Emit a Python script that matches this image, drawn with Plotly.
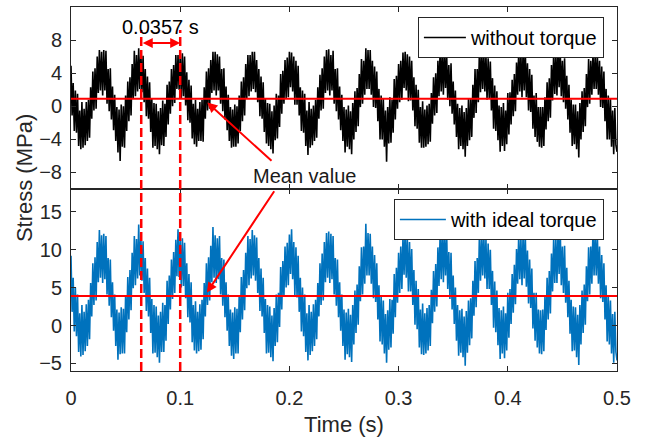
import numpy as np
import plotly.graph_objects as go
from plotly.subplots import make_subplots

# Sampling interval of the recorded stress signals (s)
dt = 0.001

# Stress without torque compensation (MPa), one value per sample
stress_without = [
    4.9, -1.1, 2.8, -3.0, 1.9, -3.2, 1.5, -4.8, -0.5, -5.2, 0.5, -5.0, -0.3,
    -4.7, 0.5, -4.2, 0.8, -3.8, 2.3, -1.5, 4.2, -0.5, 4.6, -0.3, 6.0, 1.6,
    6.8, 1.9, 6.6, 1.3, 6.8, 1.9, 6.7, 0.3, 4.5, -0.6, 4.6, -1.6, 2.4,
    -2.9, 1.4, -4.2, -0.1, -5.6, -0.4, -6.6, 0.2, -4.9, 0.0, -5.0, 1.3, -3.0,
    3.0, -1.8, 3.5, -1.1, 5.1, 1.0, 6.7, 1.2, 6.2, 1.8, 7.0, 2.1, 6.6,
    1.7, 6.1, 0.5, 4.5, -1.2, 3.6, -1.5, 2.9, -3.1, 0.9, -5.0, 0.4, -4.8,
    0.3, -5.2, -0.6, -5.8, -0.2, -4.7, 0.7, -4.8, 0.3, -3.7, 2.6, -2.2, 3.0,
    -0.9, 4.5, 0.0, 5.0, 0.4, 6.2, 2.1, 6.2, 2.0, 6.4, 0.9, 6.4, 1.2,
    6.0, 0.1, 4.1, -1.7, 3.2, -2.0, 2.5, -3.9, 0.3, -4.6, 0.8, -4.9, -0.3,
    -4.2, 0.5, -4.2, 0.8, -4.3, 2.3, -1.5, 4.2, -0.5, 4.6, -0.3, 5.6, 1.6,
    6.6, 1.9, 6.6, 1.3, 6.3, 1.9, 6.0, 0.3, 4.5, -0.6, 4.6, -1.6, 2.4,
    -2.9, 1.4, -4.2, -0.1, -5.0, -0.4, -4.9, 0.2, -4.9, 0.0, -4.5, 1.3, -3.0,
    3.0, -1.8, 3.5, -1.1, 5.1, 1.0, 6.2, 1.2, 6.2, 1.8, 6.6, 2.1, 6.6,
    1.7, 5.6, 0.5, 4.5, -1.2, 3.6, -1.5, 2.9, -3.1, 0.9, -4.5, 0.4, -4.8,
    0.3, -5.2, -0.6, -5.7, 0.1, -4.1, 1.5, -3.9, 1.3, -2.5, 3.9, -0.9, 4.3,
    0.3, 5.6, 1.0, 5.9, 1.1, 6.6, 2.3, 6.5, 1.8, 6.0, 0.2, 5.5, 0.2,
    4.9, -1.1, 2.3, -3.0, 1.9, -3.2, 1.5, -4.8, -0.5, -5.9, 0.5, -5.0, -0.3,
    -4.7, 0.1, -4.2, 0.8, -3.8, 2.3, -1.5, 3.8, -0.5, 4.6, -0.3, 6.0, 1.6,
    6.8, 1.9, 6.9, 1.3, 6.2, 1.9, 6.7, 0.3, 4.5, -0.6, 4.6, -1.6, 2.4,
    -2.9, 1.4, -4.2, -0.1, -5.6, -0.4, -4.9, 0.1, -5.2, -0.6, -5.8, 0.4, -4.0,
    1.8, -3.1, 2.2, -2.4, 3.9, -0.1, 5.7, 0.3, 5.5, 1.4, 7.0, 2.1, 6.8,
    2.1, 6.8, 1.4, 5.5, -0.1, 4.8, -0.2, 4.2, -1.8, 2.1, -4.0, 1.3, -4.0,
    0.9, -4.9, -0.5, -6.7, -0.1, -4.5, 1.1, -4.4, 0.8, -3.2, 3.3, -1.6, 3.7,
    -0.3, 5.1, 0.5, 5.5, 0.8, 6.5, 2.2, 6.6, 1.9, 6.3, 0.6, 6.0, 0.7,
    5.5, -0.5, 3.5, -2.4, 2.6, -2.7, 2.0, -4.4, -0.1, -5.0, 0.6, -5.0, -0.4,
    -4.9, 0.1, -4.6, 0.3, -4.3, 1.6, -2.1, 3.5, -1.1, 4.0, -0.8, 5.5, 1.2,
    6.9, 1.8, 6.5, 1.4, 6.9, 2.2, 6.4, 0.8, 5.0, 0.0, 5.2, -0.9, 3.0,
    -2.2, 1.9, -3.7, 0.3, -5.2, -0.2, -4.8, 0.1, -5.2, -0.7, -6.1, -0.2, -4.8,
    0.9, -4.1, 1.0, -3.7, 2.6, -1.4, 4.5, -0.8, 4.5, 0.5, 6.8, 1.7, 6.6,
    2.1, 6.6, 1.8, 6.2, 0.8, 5.8, 0.9, 5.4, -0.5, 3.4, -2.7, 2.5, -3.0,
    1.8, -4.1, 0.1, -5.5, -0.1, -4.8, 0.4, -5.4, -0.5, -4.6, 1.6, -3.4, 1.7,
    -2.2, 3.2, -1.2, 3.9, -0.6, 5.3, 1.4, 6.8, 1.8, 6.4, 1.1, 6.8, 1.9,
    6.9, 1.1, 5.2, -0.5, 4.5, -0.7, 3.8, -2.7, 1.3, -3.7, 1.6, -4.3, -0.1,
    -4.9, -0.1, -5.0, -0.1, -4.8, 1.1, -2.8, 2.9, -1.8, 3.4, -1.4, 5.0, 0.7,
    6.5, 1.5, 6.4, 1.3, 7.0, 2.3, 6.7, 1.2, 5.5, 0.5, 5.8, -0.3, 3.7,
    -1.6, 2.6, -3.2, 0.8, -4.8, 0.2, -4.6, 0.2, -5.2, -0.6, -6.2, 0.4, -4.0,
    1.8, -3.1, 2.2, -2.4, 3.9, -0.1, 5.7, 0.3, 5.5, 1.4, 6.4, 2.1, 6.2,
    2.1, 6.3, 1.4, 5.5, -0.1, 4.8, -0.2, 4.2, -1.8, 2.1, -4.0, 1.3, -4.0,
    0.9, -4.9, -0.5, -5.8, -0.2, -4.7, -5.5,
]

# Stress with ideal torque compensation (MPa), one value per sample
stress_ideal = [
    9.2, 1.8, 6.3, -0.8, 5.0, -1.4, 4.1, -3.5, 1.6, -4.1, 2.7, -3.9, 1.8,
    -3.4, 2.8, -2.7, 3.4, -1.8, 5.6, 1.2, 8.2, 2.7, 9.0, 3.3, 11.0, 5.7,
    12.6, 6.3, 11.9, 5.6, 12.1, 6.1, 11.8, 4.1, 8.9, 2.6, 8.7, 1.1, 5.7,
    -0.7, 4.1, -2.7, 2.1, -4.5, 1.7, -3.8, 2.4, -3.7, 2.2, -3.7, 4.0, -0.9,
    6.4, 0.8, 7.3, 2.0, 9.6, 4.9, 11.8, 5.3, 11.4, 6.2, 13.3, 6.6, 11.9,
    5.9, 11.1, 4.3, 8.9, 1.9, 7.5, 1.2, 6.3, -1.0, 3.5, -3.7, 2.7, -3.6,
    2.5, -4.2, 1.3, -4.9, 1.8, -3.5, 3.0, -3.5, 2.7, -2.0, 5.9, 0.2, 6.6,
    2.1, 8.7, 3.5, 9.7, 4.3, 11.3, 6.5, 12.7, 6.4, 11.7, 5.0, 11.5, 5.2,
    10.9, 3.6, 8.2, 1.1, 6.8, 0.4, 5.7, -2.2, 2.7, -3.3, 3.2, -3.7, 1.8,
    -3.4, 2.8, -3.2, 3.4, -1.8, 5.6, 1.2, 8.2, 2.7, 9.0, 3.3, 10.5, 5.7,
    13.0, 6.3, 11.9, 5.6, 11.5, 6.1, 11.8, 4.1, 8.9, 2.6, 8.7, 1.1, 5.7,
    -0.7, 4.1, -2.7, 2.1, -4.0, 1.7, -4.4, 2.4, -3.7, 2.2, -3.7, 4.0, -0.9,
    6.4, 0.8, 7.3, 2.0, 9.6, 4.9, 11.8, 5.3, 11.4, 6.2, 12.6, 6.6, 11.9,
    5.9, 11.6, 4.3, 8.9, 1.9, 7.5, 1.2, 6.3, -1.0, 3.5, -3.7, 2.7, -3.6,
    2.5, -4.2, 1.3, -4.7, 2.3, -2.7, 4.1, -2.2, 4.3, -0.2, 7.7, 2.1, 8.5,
    3.9, 10.4, 5.0, 10.9, 5.3, 12.0, 6.8, 12.7, 6.1, 11.0, 4.0, 10.3, 3.7,
    9.2, 1.8, 6.3, -0.8, 5.0, -1.4, 4.1, -3.5, 1.6, -4.6, 2.7, -3.9, 1.8,
    -3.4, 2.8, -2.7, 3.4, -1.8, 5.6, 1.2, 8.2, 2.7, 9.5, 3.3, 11.0, 5.7,
    12.2, 6.3, 12.4, 5.6, 12.1, 6.1, 11.8, 4.1, 8.9, 2.6, 8.7, 1.1, 5.7,
    -0.7, 4.1, -2.7, 2.1, -4.5, 1.7, -3.8, 2.2, -4.2, 1.4, -4.8, 2.7, -2.5,
    4.6, -1.0, 5.4, 0.1, 7.8, 3.2, 10.3, 4.1, 10.4, 5.5, 13.4, 6.6, 12.2,
    6.6, 12.1, 5.5, 10.4, 3.6, 9.3, 3.1, 8.2, 0.8, 5.3, -2.1, 4.0, -2.5,
    3.3, -3.7, 1.5, -4.9, 2.0, -3.2, 3.5, -2.9, 3.4, -1.1, 6.8, 1.1, 7.6,
    3.0, 9.6, 4.3, 10.4, 4.8, 11.8, 6.7, 12.8, 6.3, 11.5, 4.5, 11.0, 4.5,
    10.1, 2.7, 7.3, 0.1, 5.9, -0.5, 4.8, -2.9, 2.1, -3.8, 2.9, -3.9, 1.6,
    -3.7, 2.3, -3.3, 2.7, -2.7, 4.7, 0.3, 7.2, 1.8, 8.1, 2.5, 10.3, 5.2,
    12.1, 6.1, 12.9, 5.7, 12.3, 6.6, 12.3, 4.8, 9.7, 3.5, 9.6, 2.1, 6.6,
    0.2, 5.0, -2.0, 2.7, -4.0, 2.0, -3.6, 2.2, -4.2, 1.2, -5.3, 1.9, -3.6,
    3.3, -2.6, 3.6, -1.7, 5.9, 1.3, 8.5, 2.4, 8.9, 4.3, 12.0, 5.9, 11.9,
    6.6, 12.4, 6.2, 11.4, 4.8, 10.8, 4.8, 10.0, 2.7, 7.2, -0.3, 5.8, -0.9,
    4.6, -2.6, 2.3, -4.4, 2.0, -3.7, 2.5, -4.3, 1.6, -3.3, 4.3, -1.6, 4.8,
    0.2, 6.8, 1.7, 8.0, 2.8, 10.1, 5.5, 12.0, 6.1, 11.7, 5.3, 12.2, 6.2,
    12.1, 5.1, 9.9, 2.9, 8.7, 2.3, 7.5, -0.4, 4.3, -2.0, 4.3, -2.9, 2.1,
    -3.7, 2.0, -3.8, 2.1, -3.4, 3.8, -0.6, 6.3, 0.8, 7.2, 1.6, 9.5, 4.5,
    11.6, 5.6, 11.6, 5.6, 12.4, 6.8, 12.8, 5.3, 10.4, 4.3, 10.5, 3.0, 7.6,
    1.1, 5.9, -1.1, 3.4, -3.4, 2.5, -3.3, 2.4, -4.2, 1.4, -5.2, 2.7, -2.5,
    4.6, -1.0, 5.4, 0.1, 7.8, 3.2, 10.3, 4.1, 10.4, 5.5, 12.7, 6.6, 12.2,
    6.6, 12.1, 5.5, 10.4, 3.6, 9.3, 3.1, 8.2, 0.8, 5.3, -2.1, 4.0, -2.5,
    3.3, -3.7, 1.5, -4.9, 1.8, -3.5, -4.6,
]

# Mean stress levels (MPa)
mean_without = 0.9
mean_ideal = 3.9

# Measured fluctuation period and the peak it is referenced to (s)
period = 0.0357
period_end = 0.1

series_names = ["without torque", "with ideal torque"]
x_ticks = [0, 0.1, 0.2, 0.3, 0.4, 0.5]
x_tick_text = ["0", "0.1", "0.2", "0.3", "0.4", "0.5"]
y1_ticks = [-8, -4, 0, 4, 8]
y2_ticks = [-5, 0, 5, 10, 15]

FONT = "Liberation Sans, Arial, Helvetica, sans-serif"
AX_COLOR = "#262626"
RED = "#ff0000"
SIGNAL_WIDTH = 1.6

t_without = np.arange(len(stress_without)) * dt
t_ideal = np.arange(len(stress_ideal)) * dt
t_span = [0, 0.5]

fig = make_subplots(rows=2, cols=1, shared_xaxes=True, vertical_spacing=0)

fig.add_trace(go.Scatter(x=t_without, y=stress_without, mode="lines",
                         line=dict(color="#000000", width=SIGNAL_WIDTH, simplify=False),
                         name=series_names[0], legend="legend"), row=1, col=1)
fig.add_trace(go.Scatter(x=t_span, y=[mean_without, mean_without], mode="lines",
                         line=dict(color=RED, width=2), showlegend=False,
                         hoverinfo="skip"), row=1, col=1)
fig.add_trace(go.Scatter(x=t_ideal, y=stress_ideal, mode="lines",
                         line=dict(color="#0072BD", width=SIGNAL_WIDTH, simplify=False),
                         name=series_names[1], legend="legend2"), row=2, col=1)
fig.add_trace(go.Scatter(x=t_span, y=[mean_ideal, mean_ideal], mode="lines",
                         line=dict(color=RED, width=2), showlegend=False,
                         hoverinfo="skip"), row=2, col=1)

axis_common = dict(showline=True, linecolor=AX_COLOR, linewidth=1, mirror="ticks",
                   ticks="inside", ticklen=5, tickcolor=AX_COLOR, showgrid=False,
                   zeroline=False, tickfont=dict(family=FONT, size=20, color=AX_COLOR))

fig.update_xaxes(range=[0, 0.5], tickvals=x_ticks, ticktext=x_tick_text,
                 ticklabelstandoff=9, **axis_common)
fig.update_xaxes(title=dict(text="Time (s)", font=dict(family=FONT, size=22, color=AX_COLOR),
                            standoff=8), row=2, col=1)
fig.update_yaxes(range=[-10, 12], tickvals=y1_ticks, ticklabelstandoff=4,
                 row=1, col=1, **axis_common)
fig.update_yaxes(range=[-6, 18], tickvals=y2_ticks, ticklabelstandoff=4,
                 row=2, col=1, **axis_common)

# Dashed markers one period apart, spanning both panels
for xv in [period_end - period, period_end]:
    fig.add_shape(type="line", xref="x", yref="paper", x0=xv, x1=xv, y0=0, y1=0.937,
                  line=dict(color=RED, width=2.5, dash="9px,4px"))

annotations = [
    # double-headed arrow showing the period
    dict(x=period_end, y=7.65, xref="x", yref="y", ax=period_end - period, ay=7.65,
         axref="x", ayref="y", text="", showarrow=True, arrowside="end+start",
         arrowhead=2, arrowsize=1, arrowwidth=2, arrowcolor=RED),
    dict(x=period_end - period / 2, y=9.6, xref="x", yref="y",
         text=f"{period} s", showarrow=False,
         font=dict(family=FONT, size=20, color="#000000")),
    # mean value callout
    dict(x=0.2135, y=-8.45, xref="x", yref="y", text="Mean value", showarrow=False,
         font=dict(family=FONT, size=20, color="#1a1a1a")),
    dict(x=0.1248, y=0.45, xref="x", yref="y", ax=0.185, ay=-6.76,
         axref="x", ayref="y", text="", showarrow=True, arrowhead=2,
         arrowsize=1, arrowwidth=2, arrowcolor=RED),
    dict(x=0.1245, y=4.35, xref="x2", yref="y2", ax=0.187, ay=17.9,
         axref="x2", ayref="y2", text="", showarrow=True, arrowhead=2,
         arrowsize=1, arrowwidth=2, arrowcolor=RED),
    # shared y-axis title
    dict(x=-0.086, y=0.53, xref="paper", yref="paper", text="Stress (MPa)",
         textangle=-90, showarrow=False, xanchor="center", yanchor="middle",
         font=dict(family=FONT, size=22, color=AX_COLOR)),
]

legend_style = dict(xanchor="right", yanchor="top", bgcolor="#ffffff",
                    bordercolor=AX_COLOR, borderwidth=1,
                    font=dict(family=FONT, size=20, color="#000000"))

fig.update_layout(
    width=647, height=439,
    margin=dict(l=71, r=30, t=7, b=68),
    paper_bgcolor="#ffffff", plot_bgcolor="#ffffff",
    showlegend=True,
    legend=dict(x=0.976, y=0.9725, itemwidth=42, **legend_style),
    legend2=dict(x=0.976, y=0.4725, itemwidth=46, **legend_style),
    annotations=annotations,
    font=dict(family=FONT, color=AX_COLOR),
)

fig.write_html("out.html")
